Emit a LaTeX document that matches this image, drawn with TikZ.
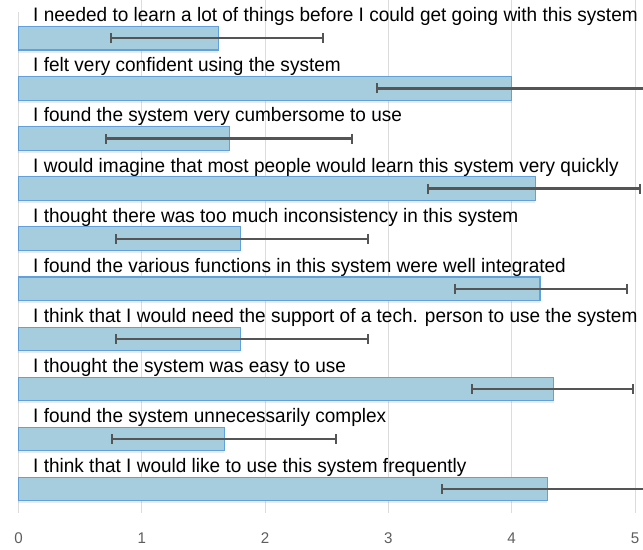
\documentclass[tikz,border=0pt]{standalone}
\usepackage{fontspec}
\setmainfont{Liberation Sans}[FakeStretch=0.975]
\usepackage{tikz}
\usetikzlibrary{arrows.meta,shadows}
\definecolor{barfill}{HTML}{A6CDDE}
\definecolor{barline}{HTML}{62A0DC}
\definecolor{errline}{HTML}{555555}
\definecolor{gridc}{HTML}{DCDCDC}
\definecolor{tickc}{HTML}{5E5E5E}

\begin{document}
\begin{tikzpicture}[x=123.3pt, y=-1pt,
		question/.style={anchor=base west, inner sep=0pt, font=\fontsize{19.5}{22}\selectfont, text=black},
		bar/.style={fill=barfill, draw=barline, line width=1.1pt, drop shadow={shadow xshift=0pt, shadow yshift=-2.5pt, opacity=0.15}},
		err/.style={draw=errline, line width=2.3pt, {Bar[width=10pt,line width=2pt]}-{Bar[width=10pt,line width=2pt]}},
		errl/.style={draw=errline, line width=2.3pt, {Bar[width=10pt,line width=2pt]}-},
		grid/.style={draw=gridc, line width=0.9pt},
		tick/.style={anchor=center, inner sep=0pt, font=\fontsize{15.5}{18}\selectfont, text=tickc}]
		\useasboundingbox (-0.15,0) rectangle (5.065,550);
		\clip (-0.15,0) rectangle (5.065,550);
		
		% grid and axis
		\draw[grid] (0,12) -- (0,513);
		\draw[grid] (1,0) -- (1,513);
		\draw[grid] (2,0) -- (2,513);
		\draw[grid] (3,0) -- (3,513);
		\draw[grid] (4,0) -- (4,513);
		\draw[grid] (5,0) -- (5,513);
		\node[tick] (x0) at (0,538.5) {0};
		\node[tick] (x1) at (1,538.5) {1};
		\node[tick] (x2) at (2,538.5) {2};
		\node[tick] (x3) at (3,538.5) {3};
		\node[tick] (x4) at (4,538.5) {4};
		\node[tick] (x5) at (5,538.5) {5};
		
		% questions
		\node[question] (q1) at (0.118,21.7) {I needed to learn a lot of things before I could get going with this system};
		\node[question] (q2) at (0.118,71.8) {I felt very confident using the system};
		\node[question] (q3) at (0.118,121.9) {I found the system very cumbersome to use};
		\node[question] (q4) at (0.118,172.0) {I would imagine that most people would learn this system very quickly};
		\node[question] (q5) at (0.118,222.1) {I thought there was too much inconsistency in this system};
		\node[question] (q6) at (0.118,272.2) {I found the various functions in this system were well integrated};
		\node[question] (q7) at (0.118,322.3) {I think that I would need the support of a tech. person to use the system};
		\node[question] (q8) at (0.118,372.4) {I thought the system was easy to use};
		\node[question] (q9) at (0.118,422.5) {I found the system unnecessarily complex};
		\node[question] (q10) at (0.118,472.6) {I think that I would like to use this system frequently};
		
		% bars
		\draw[bar] (0,26.5) rectangle (1.62,50.0);
		\draw[bar] (0,76.6) rectangle (4.00,100.1);
		\draw[bar] (0,126.7) rectangle (1.71,150.2);
		\draw[bar] (0,176.8) rectangle (4.19,200.3);
		\draw[bar] (0,226.9) rectangle (1.80,250.4);
		\draw[bar] (0,277.0) rectangle (4.23,300.5);
		\draw[bar] (0,327.1) rectangle (1.80,350.6);
		\draw[bar] (0,377.2) rectangle (4.34,400.7);
		\draw[bar] (0,427.3) rectangle (1.67,450.8);
		\draw[bar] (0,477.4) rectangle (4.29,500.9);
		
		% error bars
		\draw[err] (0.74,38.3) -- (2.48,38.3);
		\draw[errl] (2.90,88.4) -- (5.30,88.4);
		\draw[err] (0.70,138.5) -- (2.71,138.5);
		\draw[err] (3.31,188.6) -- (5.05,188.6);
		\draw[err] (0.78,238.7) -- (2.84,238.7);
		\draw[err] (3.53,288.8) -- (4.94,288.8);
		\draw[err] (0.78,338.9) -- (2.84,338.9);
		\draw[err] (3.67,389.0) -- (4.99,389.0);
		\draw[err] (0.75,439.1) -- (2.58,439.1);
		\draw[errl] (3.43,489.2) -- (5.30,489.2);
		
	\end{tikzpicture}
\end{document}
